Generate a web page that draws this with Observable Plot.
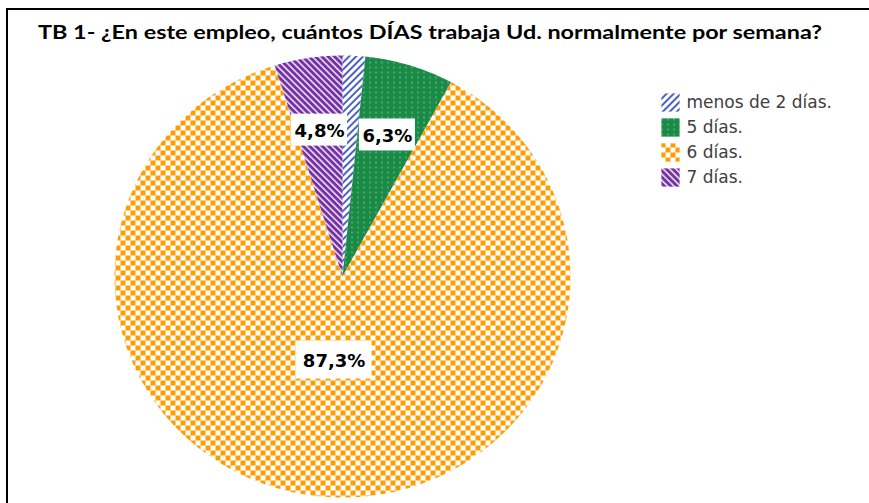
<!DOCTYPE html>
<html>
<head>
<meta charset="utf-8">
<script src="https://cdn.jsdelivr.net/npm/d3@7"></script>
<script src="https://cdn.jsdelivr.net/npm/@observablehq/plot@0.6"></script>
<style>
  html, body { margin: 0; padding: 0; background: #fff; overflow: hidden; }
  #wrap { position: relative; width: 869px; height: 503px; overflow: hidden; background: #fff; }
  #frame { position: absolute; left: 6px; top: 8px; width: 900px; height: 600px; border: 2.5px solid #000; box-sizing: border-box; }
  #title { position: absolute; left: 38px; top: 23px; font-family: Lato, "Liberation Sans", sans-serif; font-weight: 700; font-size: 18.5px; line-height: 18px; color: #000; white-space: nowrap; transform-origin: 0 0; }
  #pie { position: absolute; left: 0; top: 0; }
  #legend { position: absolute; left: 648px; top: 86px; }
</style>
</head>
<body>
<svg width="0" height="0" style="position:absolute">
  <defs>
    <pattern id="pat-menos" patternUnits="userSpaceOnUse" width="5" height="5" patternTransform="rotate(45)">
      <rect width="5" height="5" fill="#fff"/>
      <rect x="0" y="0" width="2" height="5" fill="#4a62c6"/>
    </pattern>
    <pattern id="pat-5" patternUnits="userSpaceOnUse" width="6" height="5">
      <rect width="6" height="5" fill="#1a8a47"/>
      <rect x="3" y="1" width="1" height="2" fill="#7fc090"/>
    </pattern>
    <pattern id="pat-6" patternUnits="userSpaceOnUse" width="10" height="10">
      <rect width="10" height="10" fill="#fff"/>
      <rect x="0" y="0" width="5" height="5" fill="#ff9c00"/>
      <rect x="5" y="5" width="5" height="5" fill="#ff9c00"/>
    </pattern>
    <pattern id="pat-7" patternUnits="userSpaceOnUse" width="4.5" height="4.5" patternTransform="rotate(-45)">
      <rect width="4.5" height="4.5" fill="#7232a2"/>
      <rect x="0" y="0" width="1.6" height="4.5" fill="#eedff5"/>
    </pattern>
  </defs>
</svg>
<div id="wrap">
  <div id="pie"></div>
  <div id="legend"></div>
  <div id="frame"></div>
  <div id="title">TB 1- ¿En este empleo, cuántos DÍAS trabaja Ud. normalmente por semana?</div>
</div>
<script>
// ---- data ----
const categories = ["menos de 2 días.", "5 días.", "6 días.", "7 días."];
const shares = [1.6, 6.3, 87.3, 4.8];
const labels = ["", "6,3%", "87,3%", "4,8%"];
const patterns = ["url(#pat-menos)", "url(#pat-5)", "url(#pat-6)", "url(#pat-7)"];

// ---- slice geometry (from data) ----
const total = d3.sum(shares);
let acc = 0;
const slices = categories.map((cat, i) => {
  const a0 = acc / total * 2 * Math.PI;
  acc += shares[i];
  const a1 = acc / total * 2 * Math.PI;
  return {cat, a0, a1, share: shares[i], label: labels[i], fill: patterns[i]};
});

const slicePoints = slices.map(s => {
  const pts = [{x: 0, y: 0}];
  const n = Math.max(4, Math.ceil((s.a1 - s.a0) / (Math.PI / 360)));
  for (let k = 0; k <= n; k++) {
    const t = s.a0 + (s.a1 - s.a0) * k / n;
    pts.push({x: Math.sin(t), y: Math.cos(t)});
  }
  return pts;
});

const labelData = slices.filter(s => s.label).map(s => {
  const m = (s.a0 + s.a1) / 2;
  const r = s.share > 50 ? 0.38 : 0.67;
  return {label: s.label, x: r * Math.sin(m), y: r * Math.cos(m), big: s.share > 50};
});

const cx = 342, cy = 276, rx = 228, ry = 221;

const marks = slicePoints.map((pts, i) =>
  Plot.line(pts, {x: "x", y: "y", fill: slices[i].fill, stroke: "none"})
);
marks.push(
  Plot.rect(labelData.filter(d => !d.big), {x1: "x", x2: "x", y1: "y", y2: "y", fill: "#fff",
    insetLeft: -28, insetRight: -28, insetTop: -16, insetBottom: -16}),
  Plot.rect(labelData.filter(d => d.big), {x1: "x", x2: "x", y1: "y", y2: "y", fill: "#fff",
    insetLeft: -38, insetRight: -38, insetTop: -19, insetBottom: -19}),
  Plot.text(labelData, {x: "x", y: "y", text: "label", fill: "#000", fontSize: 18, fontWeight: "bold",
    fontFamily: "DejaVu Sans", dy: 1})
);

const pie = Plot.plot({
  width: 869, height: 503, margin: 0,
  x: {domain: [-1, 1], range: [cx - rx, cx + rx], axis: null},
  y: {domain: [-1, 1], range: [cy + ry, cy - ry], axis: null},
  style: {background: "transparent", overflow: "visible"},
  marks
});
document.getElementById("pie").appendChild(pie);

// ---- legend ----
const legend = Plot.plot({
  width: 210, height: 110, margin: 0,
  x: {domain: [0, 1], range: [22, 200], axis: null},
  y: {type: "point", domain: categories, range: [15, 92], padding: 0, axis: null},
  color: {domain: categories, range: patterns},
  style: {background: "transparent", overflow: "visible"},
  marks: [
    Plot.dot(categories, {x: () => 0, y: d => d, fill: d => d, symbol: "square", r: 10.3, stroke: "none"}),
    Plot.text(categories, {x: () => 0, y: d => d, text: d => d, dx: 16, textAnchor: "start",
      fontSize: 17, fontFamily: "DejaVu Sans", fill: "#404040"})
  ]
});
document.getElementById("legend").appendChild(legend);

// fit title to its reference width
const t = document.getElementById("title");
const w = t.getBoundingClientRect().width;
if (w > 0) t.style.transform = "scaleX(" + (784 / w).toFixed(4) + ")";
</script>
</body>
</html>
